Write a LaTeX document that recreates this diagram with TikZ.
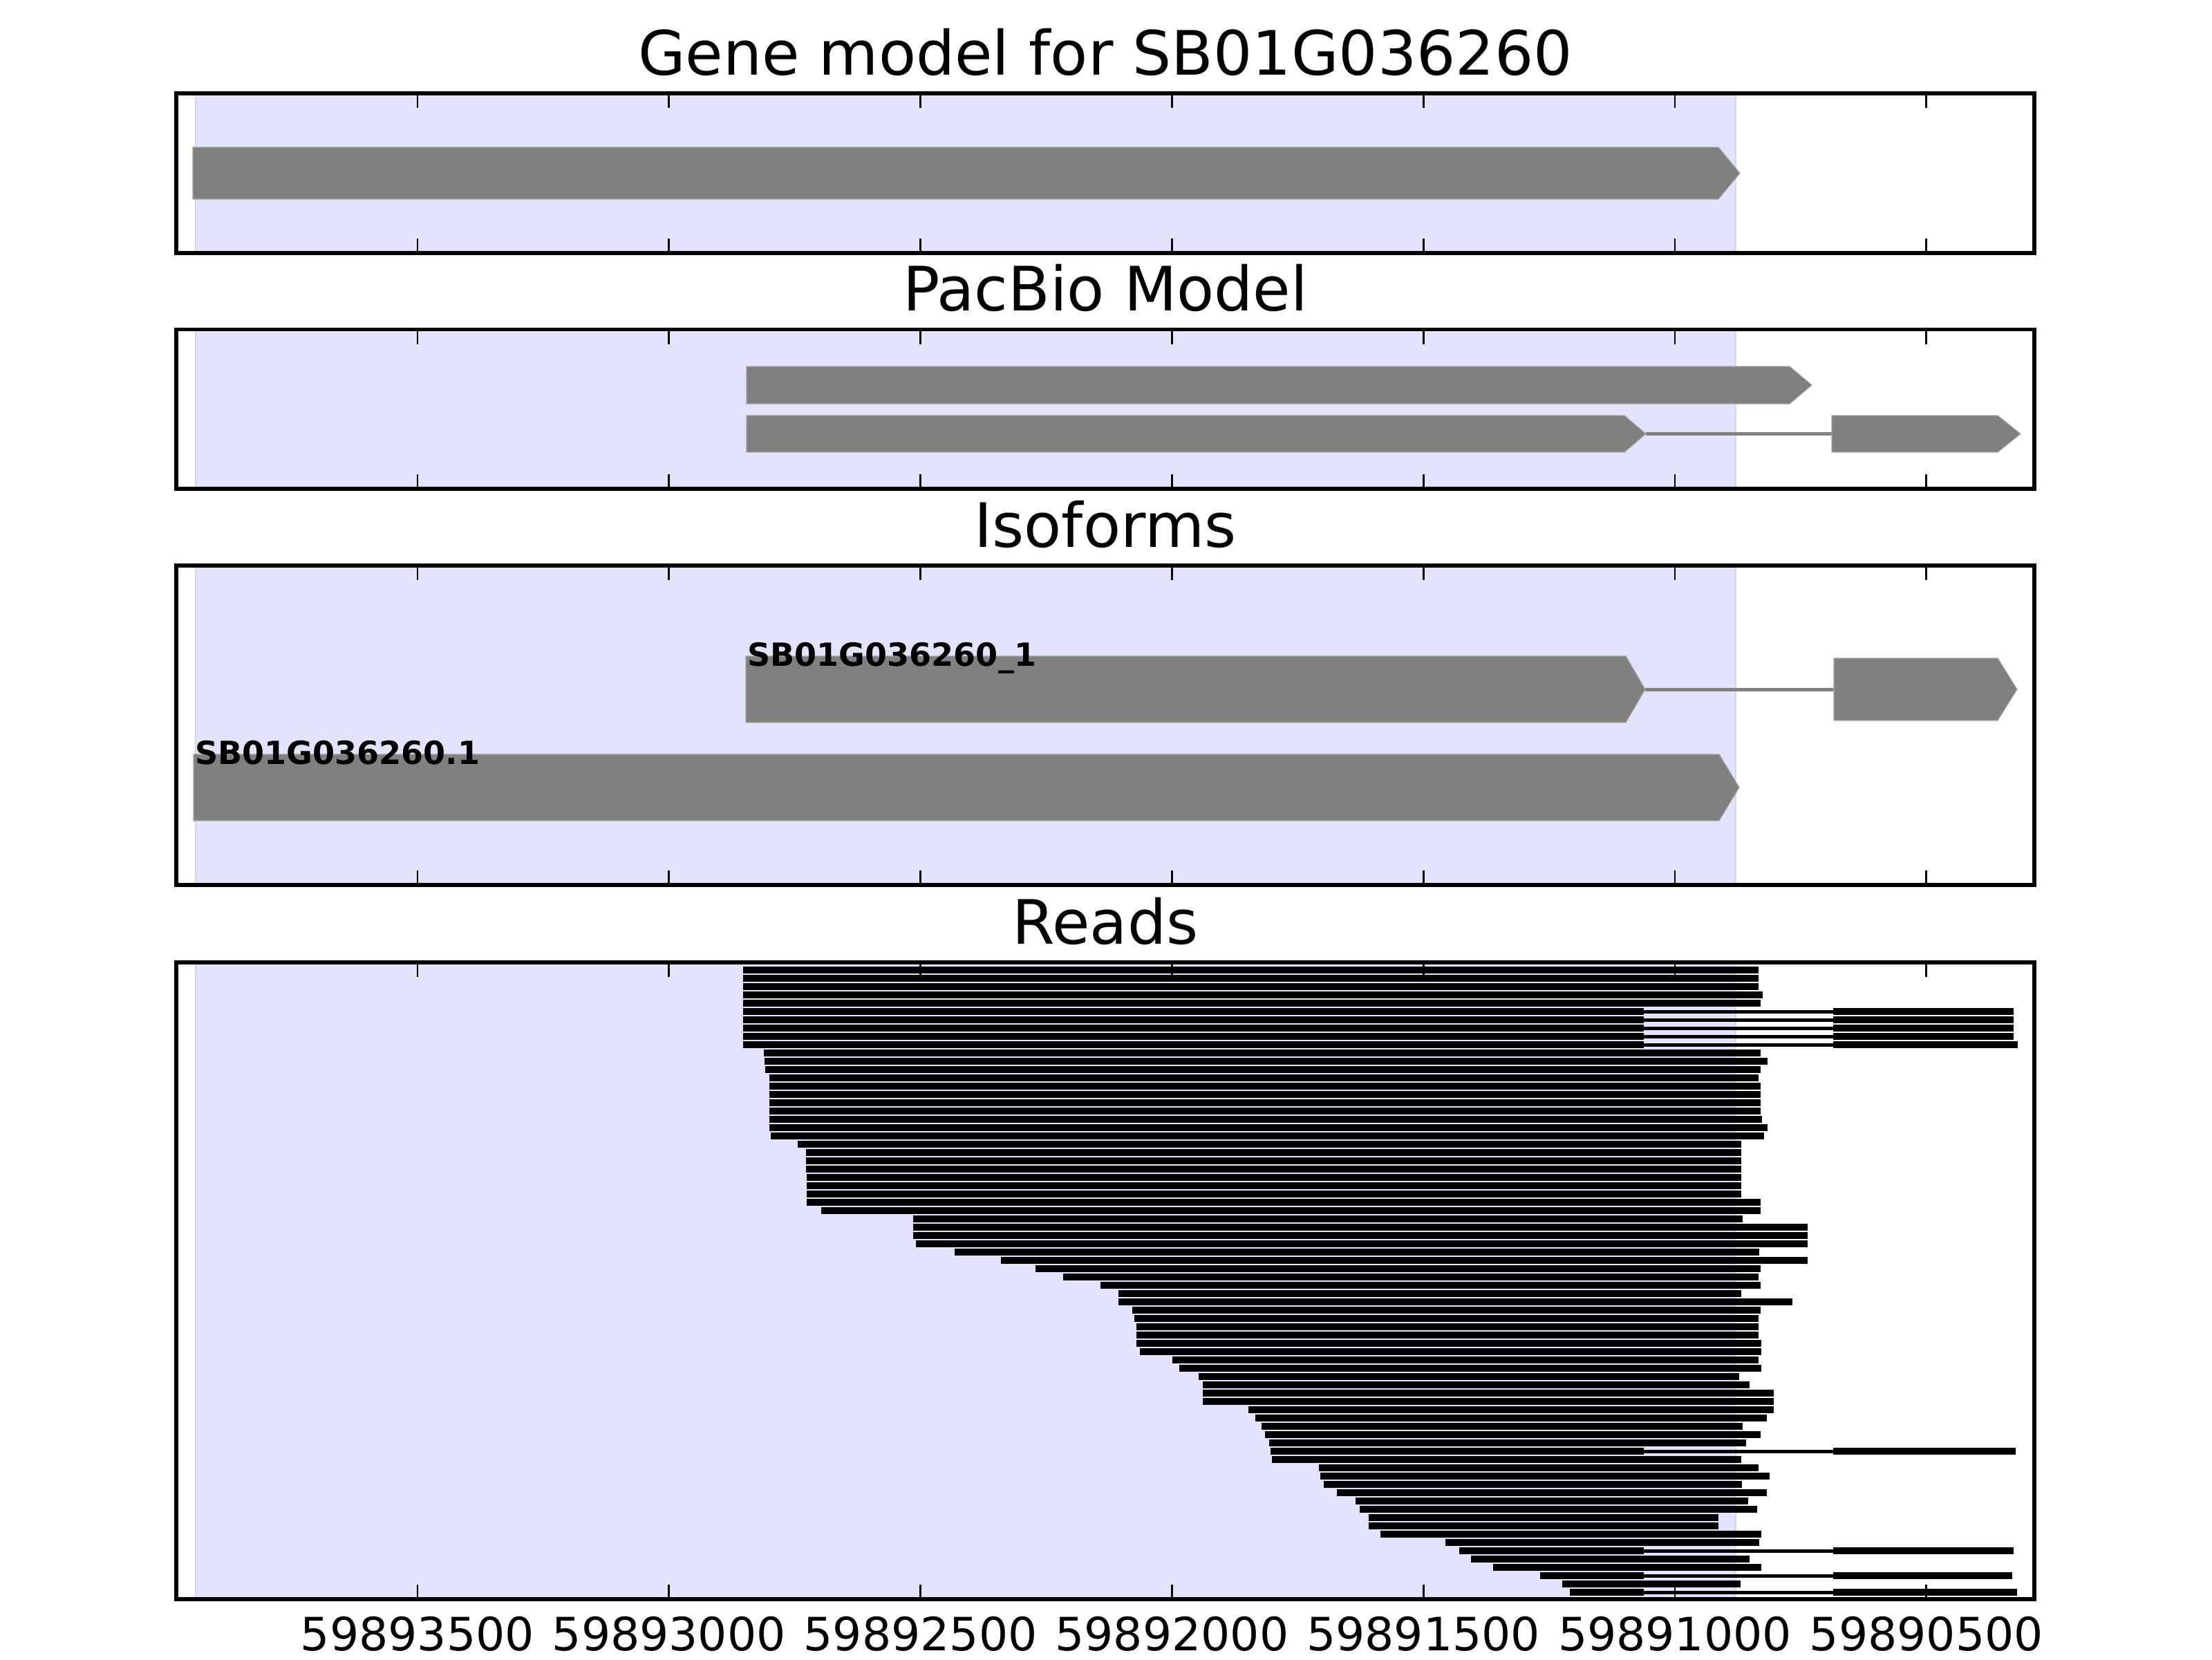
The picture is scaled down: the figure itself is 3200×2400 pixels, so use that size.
\documentclass[tikz,border=0pt]{standalone}
\usepackage{fontspec}
\setmainfont{DejaVu Sans}
\definecolor{spanfill}{RGB}{227,227,253}
\definecolor{spanedge}{RGB}{212,212,234}
\definecolor{exongray}{RGB}{128,128,128}
\definecolor{exonedge}{RGB}{165,165,165}
\begin{document}
\begin{tikzpicture}[x=0.180675pt,y=-0.180675pt,
  panel/.style={draw=black,line width=1pt},
  spanbox/.style={fill=spanfill,draw=spanedge,line width=0.5pt},
  exon/.style={fill=exongray,draw=exonedge,line width=0.2pt},
  intron/.style={draw=exongray,line width=0.9pt},
  readintron/.style={draw=black,line width=0.8pt},
  tickmark/.style={draw=black,line width=0.5pt},
  titlelab/.style={anchor=base,inner sep=0pt,font=\fontsize{16}{19}\selectfont},
  ticklab/.style={anchor=base,inner sep=0pt,font=\fontsize{12}{14}\selectfont},
  isolab/.style={anchor=base west,inner sep=0pt,font=\fontsize{8.33}{10}\selectfont\bfseries}]
\useasboundingbox (0,0) rectangle (3200,2400);
\fill[white] (0,0) rectangle (3200,2400);
\foreach \a/\b in {135/366,476.7/707,818/1280,1392/2313}{
  \filldraw[spanbox] (283,\a) rectangle (2511,\b);
}
\node[titlelab] (tgene) at (1599,108) {Gene model for SB01G036260};
\filldraw[exon] (279,213) -- (2486,213) -- (2517,250.5) -- (2486,288) -- (279,288) -- cycle;
\node[titlelab] (tpacbio) at (1599,449.5) {PacBio Model};
\filldraw[exon] (1080,530) -- (2589,530) -- (2621,557) -- (2589,584) -- (1080,584) -- cycle;
\draw[intron] (2381,627.5) -- (2650,627.5);
\filldraw[exon] (1080,601) -- (2350,601) -- (2381,627.5) -- (2350,654) -- (1080,654) -- cycle;
\filldraw[exon] (2650,601) -- (2890,601) -- (2923,627.5) -- (2890,654) -- (2650,654) -- cycle;
\node[titlelab] (tiso) at (1599,791) {Isoforms};
\draw[intron] (2380,997) -- (2653,997);
\filldraw[exon] (1079,949) -- (2352,949) -- (2380,997) -- (2352,1045) -- (1079,1045) -- cycle;
\filldraw[exon] (2653,952) -- (2890,952) -- (2918,997) -- (2890,1042) -- (2653,1042) -- cycle;
\filldraw[exon] (280,1091) -- (2487,1091) -- (2516,1139) -- (2487,1187) -- (280,1187) -- cycle;
\node[isolab] (liso1) at (1080,963) {SB01G036260\_1};
\node[isolab] (liso0) at (281,1105) {SB01G036260.1};
\node[titlelab] (treads) at (1599,1365) {Reads};
\foreach \i/\l/\r in {1/1075/2544,2/1075/2544,3/1075/2544,4/1075/2550,5/1075/2547,
  11/1105/2547,12/1106/2557,13/1107/2547,14/1113/2544,15/1113/2547,16/1113/2547,
  17/1113/2547,18/1113/2547,19/1113/2549,20/1113/2557,21/1115/2552,22/1154/2519,
  23/1166/2519,24/1166/2519,25/1166/2519,26/1167/2519,27/1167/2519,28/1167/2519,
  29/1167/2547,30/1188/2547,31/1321/2521,32/1321/2615,33/1321/2615,34/1325/2615,
  35/1381/2545,36/1448/2615,37/1498/2547,38/1538/2544,39/1592/2547,40/1618/2519,
  41/1618/2593,42/1638/2547,43/1641/2544,44/1644/2544,45/1644/2544,46/1644/2548,
  47/1649/2548,48/1696/2544,49/1706/2548,50/1734/2516,51/1740/2531,52/1740/2566,
  53/1740/2566,54/1806/2566,55/1816/2556,56/1825/2521,57/1830/2547,58/1836/2526,
  60/1840/2519,61/1908/2544,62/1910/2560,63/1915/2520,64/1934/2556,65/1961/2529,
  66/1967/2542,67/1980/2486,68/1980/2486,69/1997/2548,70/2091/2545,72/2128/2531,
  73/2160/2548,75/2260/2518}{
  \fill[black] (\l,{1398.3+(\i-1)*12}) rectangle (\r,{1408.3+(\i-1)*12});
}
\foreach \i/\l/\r in {6/1075/2913,7/1075/2913,8/1075/2913,9/1075/2913,10/1075/2919,
  59/1838/2916,71/2111/2913,74/2228/2911,76/2271/2918}{
  \fill[black] (\l,{1398.3+(\i-1)*12}) rectangle (2378,{1408.3+(\i-1)*12});
  \draw[readintron] (2378,{1403.3+(\i-1)*12}) -- (2652,{1403.3+(\i-1)*12});
  \fill[black] (2652,{1398.3+(\i-1)*12}) rectangle (\r,{1408.3+(\i-1)*12});
}
\foreach \a/\b in {135/366,476.7/707,818/1280,1392/2313}{
  \foreach \t in {604,967.8,1331.6,1695.4,2059.2,2423,2786.8}{
    \draw[tickmark] (\t,\a) -- ++(0,21);
    \draw[tickmark] (\t,\b) -- ++(0,-21);
  }
  \draw[panel] (255,\a) rectangle (2943,\b);
}
\foreach \t/\v [count=\k] in {604/59893500,967.8/59893000,1331.6/59892500,1695.4/59892000,
  2059.2/59891500,2423/59891000,2786.8/59890500}{
  \node[ticklab] (tl\k) at (\t,2387) {\v};
}
\end{tikzpicture}
\end{document}
